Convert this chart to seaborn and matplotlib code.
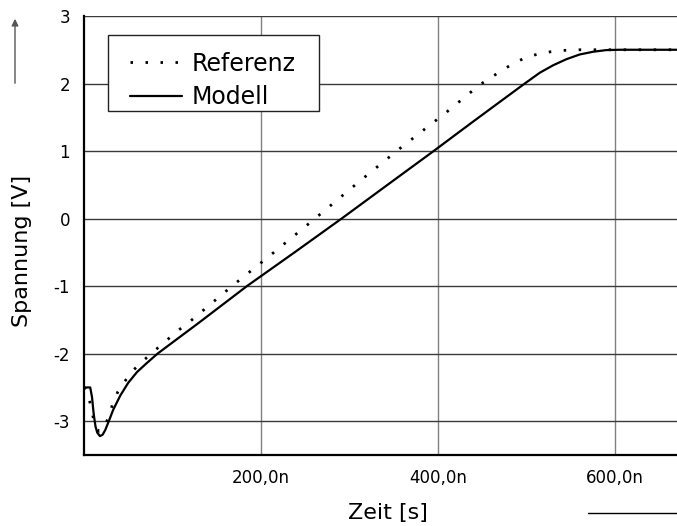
import matplotlib
matplotlib.use("Agg")
import matplotlib.pyplot as plt
from matplotlib.patches import Rectangle
from matplotlib.lines import Line2D
from matplotlib.ticker import FixedLocator
import seaborn as sns

# Referenzsimulation (Zeit in ns, Spannung in V)
zeit_referenz = [0, 4, 8, 11, 14, 17, 20, 23, 28, 32, 38, 46, 56, 69, 82,
                 106, 120, 169, 208, 260, 312, 357, 409, 447, 474, 487, 500,
                 514, 527, 541, 560, 670]
spannung_referenz = [-2.5, -2.56, -2.8, -2.98, -3.1, -3.15, -3.14, -3.08,
                     -2.93, -2.76, -2.57, -2.41, -2.24, -2.08, -1.93, -1.66,
                     -1.52, -0.98, -0.57, -0.01, 0.56, 1.04, 1.57, 1.98, 2.21,
                     2.31, 2.39, 2.44, 2.47, 2.49, 2.5, 2.5]

# Verhaltensmodell (Zeit in ns, Spannung in V)
zeit_modell = [0, 7, 9, 11, 13, 15, 18, 21, 24, 28, 33, 41, 50, 60, 70, 83,
               130, 184, 240, 291, 345, 395, 440, 470, 498, 515, 530, 545,
               560, 575, 590, 605, 670]
spannung_modell = [-2.5, -2.5, -2.64, -2.9, -3.08, -3.17, -3.22, -3.2, -3.13,
                   -3.0, -2.83, -2.62, -2.43, -2.27, -2.15, -2.0, -1.54, -1.0,
                   -0.48, 0.0, 0.52, 1.0, 1.44, 1.73, 2.0, 2.16, 2.27, 2.36,
                   2.43, 2.47, 2.495, 2.5, 2.5]

x_ticks = [200, 400, 600]
x_tick_labels = ["200,0n", "400,0n", "600,0n"]
x_minor_ticks = [100, 300, 500]
y_ticks = [-3, -2, -1, 0, 1, 2, 3]
y_tick_labels = ["-3", "-2", "-1", "0", "1", "2", "3"]
y_minor_ticks = [-3.5, -2.5, -1.5, -0.5, 0.5, 1.5, 2.5]

sns.set_style("white")
plt.rcParams["font.family"] = ["DejaVu Sans"]
plt.rcParams["text.color"] = "black"
plt.rcParams["axes.labelcolor"] = "black"

fig = plt.figure(figsize=(6.77, 5.26), dpi=100)
ax = fig.add_axes([0.1241, 0.135, 0.8759, 0.8346])

sns.lineplot(x=zeit_referenz, y=spannung_referenz, ax=ax, color="black",
             linewidth=2.0, linestyle=(0, (0.9, 4.5)), sort=False,
             estimator=None, label="Referenz", zorder=3)
sns.lineplot(x=zeit_modell, y=spannung_modell, ax=ax, color="black",
             linewidth=1.6, linestyle="-", sort=False, estimator=None,
             label="Modell", zorder=3)

ax.set_xlim(0, 670)
ax.set_ylim(-3.5, 3)

ax.xaxis.set_major_locator(FixedLocator(x_ticks))
ax.set_xticklabels(x_tick_labels)
ax.xaxis.set_minor_locator(FixedLocator(x_minor_ticks))
ax.yaxis.set_major_locator(FixedLocator(y_ticks))
ax.set_yticklabels(y_tick_labels)
ax.yaxis.set_minor_locator(FixedLocator(y_minor_ticks))

ax.tick_params(which="both", direction="out", color="black", width=1.2,
               labelsize=12, labelcolor="black")
ax.tick_params(which="major", length=6, pad=4)
ax.tick_params(which="minor", length=3.5)

ax.set_axisbelow(True)
ax.xaxis.grid(True, which="major", color="#808080", linewidth=1.0)
ax.yaxis.grid(True, which="major", color="#3a3a3a", linewidth=1.0)

for side in ("top", "right"):
    ax.spines[side].set_visible(False)
for side in ("left", "bottom"):
    ax.spines[side].set_color("black")
    ax.spines[side].set_linewidth(1.6)

ax.set_xlabel("Zeit [s]", fontsize=16, color="black")
ax.set_ylabel("Spannung [V]", fontsize=16, color="black")
ax.xaxis.set_label_coords(0.5126, -0.109)
ax.yaxis.set_label_coords(-0.088, 0.465)

# Legendenrahmen
ax.add_patch(Rectangle((0.0405, 0.7843), 0.3558, 0.1727,
                       transform=ax.transAxes, facecolor="white",
                       edgecolor="#222222", linewidth=1.0, zorder=4))
handles, labels = ax.get_legend_handles_labels()
leg = ax.legend(handles, labels, loc="upper left",
                bbox_to_anchor=(0.0776, 0.919), frameon=False, fontsize=17,
                handlelength=2.2, handletextpad=0.4, labelspacing=0.41,
                borderpad=0, borderaxespad=0, labelcolor="black")
leg.set_zorder(5)

# Richtungspfeil an der Ordinate und Abschlusslinie an der Abszisse
ax.annotate("", xy=(15, 510), xytext=(15, 440), xycoords="figure pixels",
            textcoords="figure pixels",
            arrowprops=dict(arrowstyle="-|>", color="#555555", lw=1.0,
                            mutation_scale=10))
fig.add_artist(Line2D([588 / 677, 1.0], [13 / 526, 13 / 526],
                      transform=fig.transFigure, color="black", lw=1.0))

fig.savefig("out.png", dpi=100)
